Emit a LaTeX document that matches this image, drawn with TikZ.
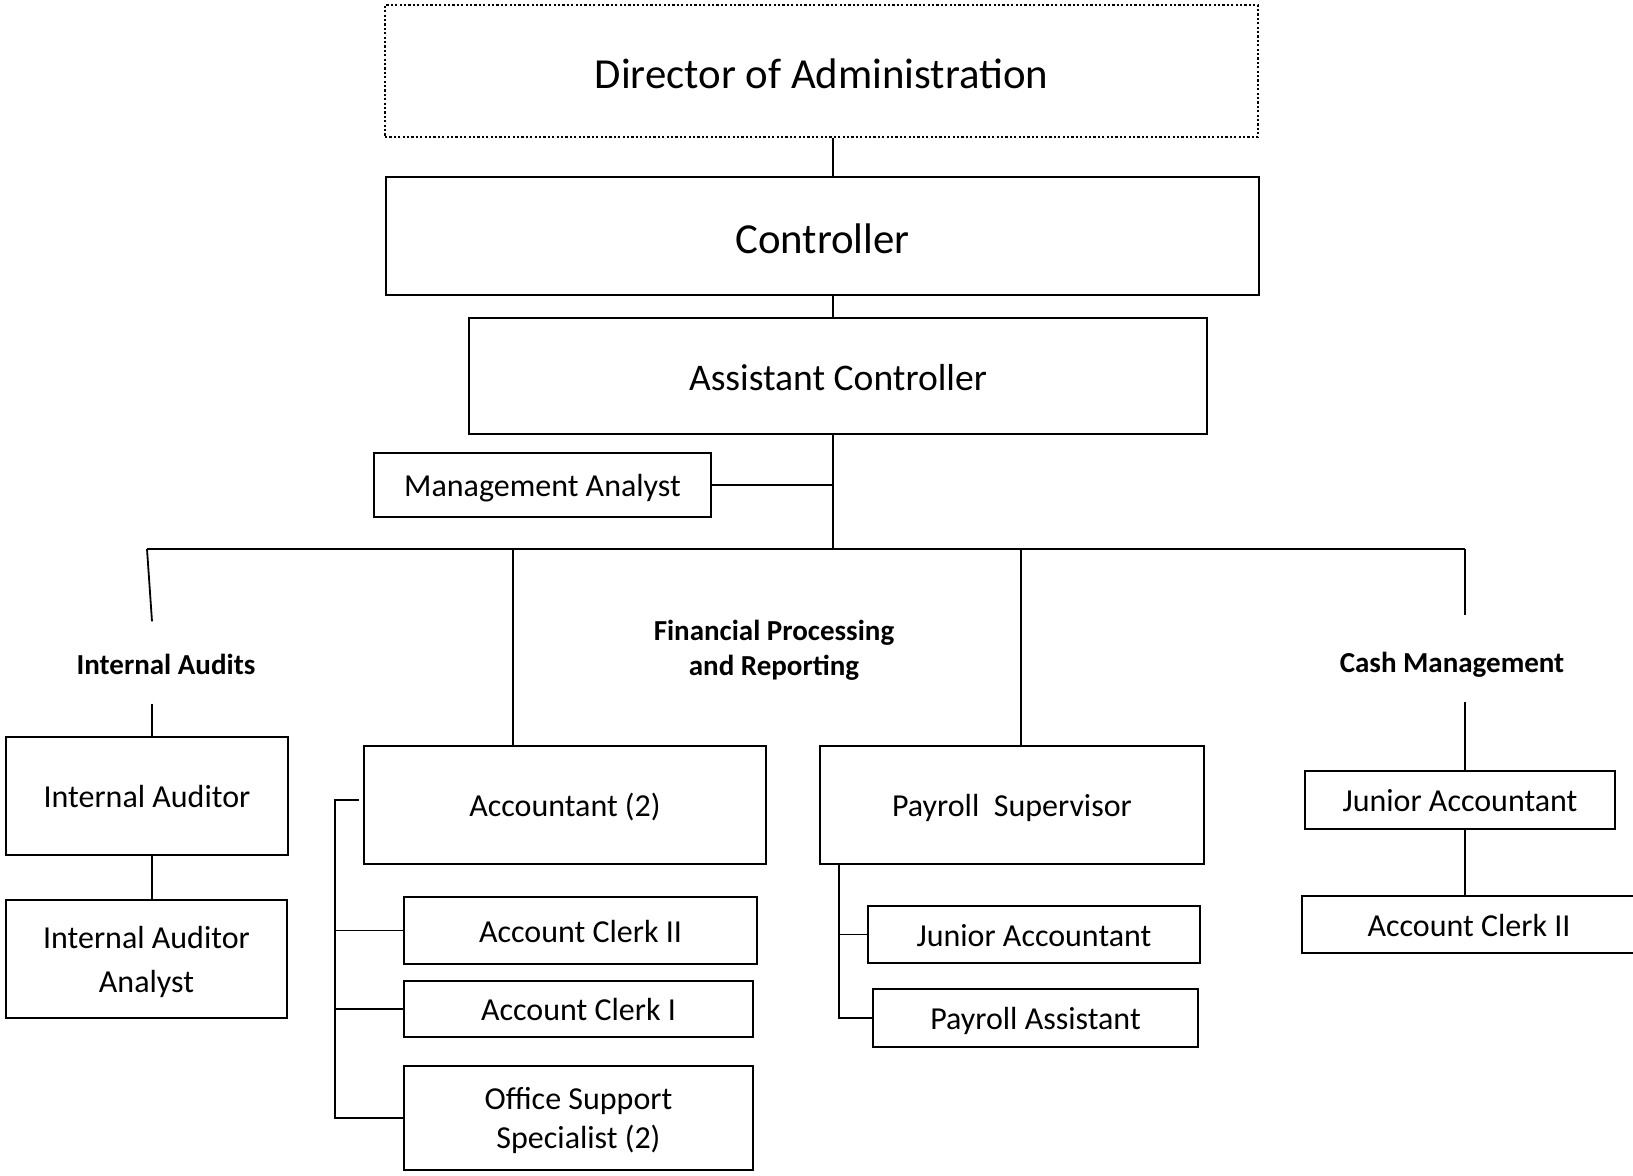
\documentclass[tikz,border=0pt]{standalone}
\usepackage{fontspec}
\setmainfont{Carlito}
\usetikzlibrary{calc}

\begin{document}
\begin{tikzpicture}[x=0.5pt,y=-0.5pt,
  sz/.style 2 args={minimum width=#1*0.5pt, minimum height=#2*0.5pt},
  box/.style={draw, line width=1.2pt, rectangle, inner sep=0pt,
              font=\fontsize{16}{22}\selectfont, text height=12.6pt, text depth=0.8pt},
  twoline/.style={align=center, text height=, text depth=0pt},
  topbox/.style={box, font=\fontsize{21.4}{25}\selectfont, text height=18pt, text depth=0.2pt},
  dotbox/.style={topbox, line width=0.9pt, dash pattern=on 1.1pt off 1.1pt},
  midbox/.style={box, font=\fontsize{18.8}{22}\selectfont, text height=15pt, text depth=0.6pt},
  head/.style={inner sep=0pt, align=center, font=\bfseries\fontsize{14.5}{17.5}\selectfont},
  link/.style={line width=0.9pt}]

\useasboundingbox (0,0) rectangle (1633,1176);

% top of the hierarchy
\node[dotbox, sz={873}{132}] (dir)  at (821.5,71) {Director of Administration};
\node[topbox, sz={873}{118}] (ctrl) at (822.5,236) {Controller};
\node[midbox, sz={738}{116}] (actl) at (838,376) {Assistant Controller};
\node[box, sz={337}{64}] (ma) at (542.5,485) {Management Analyst};

% spine and bus coordinates
\coordinate (spine) at (833,0);
\coordinate (busL)  at (147,549);
\coordinate (busR)  at (1465,549);
\coordinate (busC)  at (833,549);

% group headings
\node[head] (hIA) at (166,664) {Internal Audits};
\node[head] (hFP) at (774,650) {Financial Processing\\and Reporting};
\node[head] (hCM) at (1452,665) {Cash Management};

% Internal Audits
\node[box, sz={282}{118}] (ia)  at (147,796) {Internal Auditor};
\node[box, twoline, sz={281}{118}] (iaa) at (146.5,959) {Internal Auditor\\Analyst};

% Financial Processing and Reporting
\node[box, sz={402}{118}] (acct) at (565,805) {Accountant (2)};
\node[box, sz={353}{67}]  (ac2)  at (580.5,930.5) {Account Clerk II};
\node[box, sz={349}{56}]  (ac1)  at (578.5,1009) {Account Clerk I};
\node[box, twoline, sz={349}{104}, font=\fontsize{16}{19.3}\selectfont] (oss) at (578.5,1118) {Office Support\\Specialist (2)};

\node[box, sz={384}{118}] (ps)  at (1012,805) {Payroll\ \ Supervisor};
\node[box, sz={332}{57}]  (ja1) at (1034,934.5) {Junior Accountant};
\node[box, sz={325}{58}]  (pa)  at (1035.5,1018) {Payroll Assistant};

% Cash Management
\node[box, sz={310}{58}] (ja2)  at (1460,800) {Junior Accountant};
\node[box, sz={334}{57}] (ac2b) at (1469,924.5) {Account Clerk II};

% upper chain
\draw[link] (dir.south -| spine) -- (ctrl.north -| spine);
\draw[link] (ctrl.south -| spine) -- (actl.north -| spine);
\draw[link] (actl.south -| spine) -- (busC);
\draw[link] (ma.east) -- (ma.east -| spine);

% horizontal bus
\draw[link] (busL) -- (busR);

% Internal Audits branch
\coordinate (iaX) at (152,0);
\draw[link] (busL) -- ($(iaX |- hIA.north)+(0,-32)$);
\draw[link] ($(iaX |- hIA.south)+(0,29)$) -- (ia.north -| iaX);
\draw[link] (ia.south -| iaX) -- (iaa.north -| iaX);

% Financial Processing branches
\coordinate (fpA) at (513,549);
\coordinate (fpB) at (1021,549);
\draw[link] (fpA) -- (acct.north -| fpA);
\draw[link] (fpB) -- (ps.north -| fpB);

% Accountant staff bracket
\coordinate (brA) at (335,800);
\draw[link] ($(acct.west)+(-4,-5)$) -- (brA) -- (brA |- oss.west) -- (oss.west);
\draw[link] (brA |- ac2.west) -- (ac2.west);
\draw[link] (brA |- ac1.west) -- (ac1.west);

% Payroll staff bracket
\coordinate (brP) at (839,0);
\draw[link] (ps.south -| brP) -- (brP |- pa.west) -- (pa.west);
\draw[link] (brP |- ja1.west) -- (ja1.west);

% Cash Management branch
\draw[link] (busR) -- ($(busR |- hCM.north)+(0,-37)$);
\draw[link] ($(busR |- hCM.south)+(0,24)$) -- (ja2.north -| busR);
\draw[link] (ja2.south -| busR) -- (ac2b.north -| busR);

\end{tikzpicture}
\end{document}
